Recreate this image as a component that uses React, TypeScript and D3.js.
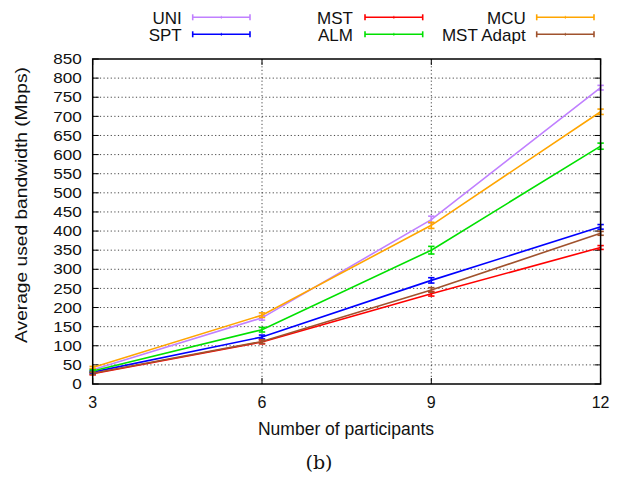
import React from "react";
import * as d3 from "d3";

// Number of participants on the x axis
const PARTICIPANTS = [3, 6, 9, 12];

// Average used bandwidth (Mbps) per scheme
const UNI = [37, 173, 430, 775];
const MST = [27, 110, 236, 357];
const MCU = [43, 180, 415, 712];
const SPT = [31, 123, 271, 411];
const ALM = [34, 142, 350, 622];
const MST_ADAPT = [28, 111, 246, 394];

// Error bar half-heights (Mbps)
const UNI_ERR = [3, 6, 9, 6];
const MST_ERR = [3, 5, 6, 5];
const MCU_ERR = [3, 6, 8, 7];
const SPT_ERR = [3, 5, 7, 6];
const ALM_ERR = [3, 6, 10, 8];
const MST_ADAPT_ERR = [3, 5, 6, 5];

const Y_TICKS = d3.range(0, 851, 50);
const X_TICKS = [3, 6, 9, 12];

type Series = { name: string; values: number[]; errs: number[]; color: string };

const SERIES: Series[] = [
  { name: "UNI", values: UNI, errs: UNI_ERR, color: "#c080ff" },
  { name: "MST", values: MST, errs: MST_ERR, color: "#ff0000" },
  { name: "MCU", values: MCU, errs: MCU_ERR, color: "#ffa500" },
  { name: "SPT", values: SPT, errs: SPT_ERR, color: "#0000ff" },
  { name: "ALM", values: ALM, errs: ALM_ERR, color: "#00e000" },
  { name: "MST Adapt", values: MST_ADAPT, errs: MST_ADAPT_ERR, color: "#a0522d" },
];

const W = 622;
const H = 479;
const LEFT = 92.7;
const RIGHT = 600.6;
const TOP = 59;
const BOTTOM = 384;

const FONT = "'Liberation Sans', Arial, Helvetica, sans-serif";

function Txt(props: {
  x: number;
  y: number;
  size: number;
  sx?: number;
  rotate?: number;
  anchor?: "start" | "middle" | "end";
  family?: string;
  children: React.ReactNode;
}) {
  const { x, y, size, sx = 1, rotate = 0, anchor = "start", family = FONT, children } = props;
  return (
    <text
      transform={`translate(${x},${y}) rotate(${rotate}) scale(${sx},1)`}
      fontSize={size}
      fontFamily={family}
      textAnchor={anchor}
      fill="#111"
    >
      {children}
    </text>
  );
}

export default function App() {
  const x = d3.scaleLinear().domain([3, 12]).range([LEFT, RIGHT]);
  const y = d3.scaleLinear().domain([0, 850]).range([BOTTOM, TOP]);

  const line = d3
    .line<number>()
    .x((_, i) => x(PARTICIPANTS[i]))
    .y((v) => y(v));

  // Legend layout: three columns, two rows
  const legendCols = [
    { textX: 181.7, x0: 192.7, x1: 250 },
    { textX: 353, x0: 365, x1: 422.7 },
    { textX: 525.7, x0: 536.7, x1: 594 },
  ];
  const legendRows = [17.3, 34.3];

  const cap = 3.2;

  return (
    <svg
      width={W}
      height={H}
      style={{ position: "absolute", left: 0, top: 0, background: "#fff" }}
    >
      <rect x={0} y={0} width={W} height={H} fill="#fff" />

      {/* grid */}
      {Y_TICKS.filter((t) => t > 0 && t < 850).map((t) => (
        <line
          key={`gy${t}`}
          x1={LEFT}
          x2={RIGHT}
          y1={y(t)}
          y2={y(t)}
          stroke="#333"
          strokeWidth={0.9}
          strokeDasharray="1.2,2.4"
        />
      ))}
      {X_TICKS.filter((t) => t > 3 && t < 12).map((t) => (
        <line
          key={`gx${t}`}
          x1={x(t)}
          x2={x(t)}
          y1={TOP}
          y2={BOTTOM}
          stroke="#333"
          strokeWidth={0.9}
          strokeDasharray="1.2,2.4"
        />
      ))}

      {/* tick marks */}
      {Y_TICKS.map((t) => (
        <g key={`ty${t}`}>
          <line x1={LEFT} x2={LEFT + 6} y1={y(t)} y2={y(t)} stroke="#000" strokeWidth={1} />
          <line x1={RIGHT - 6} x2={RIGHT} y1={y(t)} y2={y(t)} stroke="#000" strokeWidth={1} />
        </g>
      ))}
      {X_TICKS.map((t) => (
        <g key={`tx${t}`}>
          <line x1={x(t)} x2={x(t)} y1={BOTTOM} y2={BOTTOM - 6} stroke="#000" strokeWidth={1} />
          <line x1={x(t)} x2={x(t)} y1={TOP} y2={TOP + 6} stroke="#000" strokeWidth={1} />
        </g>
      ))}

      {/* series */}
      {SERIES.map((s) => (
        <g key={s.name}>
          <path d={line(s.values) || ""} fill="none" stroke={s.color} strokeWidth={1.6} />
          {s.values.map((v, i) => {
            const px = x(PARTICIPANTS[i]);
            const y0 = y(v - s.errs[i]);
            const y1 = y(v + s.errs[i]);
            return (
              <g key={i} stroke={s.color} strokeWidth={1.6}>
                <line x1={px} x2={px} y1={y0} y2={y1} />
                <line x1={px - cap} x2={px + cap} y1={y0} y2={y0} />
                <line x1={px - cap} x2={px + cap} y1={y1} y2={y1} />
              </g>
            );
          })}
        </g>
      ))}

      {/* frame */}
      <rect
        x={LEFT}
        y={TOP}
        width={RIGHT - LEFT}
        height={BOTTOM - TOP}
        fill="none"
        stroke="#000"
        strokeWidth={1.5}
      />

      {/* y tick labels */}
      {Y_TICKS.map((t) => (
        <Txt key={`ly${t}`} x={81.7} y={y(t) + 5.2} size={14.5} sx={1.18} anchor="end">
          {t}
        </Txt>
      ))}

      {/* x tick labels */}
      {X_TICKS.map((t) => (
        <Txt key={`lx${t}`} x={x(t)} y={408.3} size={16} anchor="middle">
          {t}
        </Txt>
      ))}

      {/* axis titles */}
      <Txt x={346} y={435} size={17.5} anchor="middle">
        Number of participants
      </Txt>
      <Txt x={26.5} y={205} size={16} sx={1.2} rotate={-90} anchor="middle">
        Average used bandwidth (Mbps)
      </Txt>

      {/* legend */}
      {SERIES.map((s, i) => {
        const col = legendCols[i % 3];
        const ry = legendRows[Math.floor(i / 3)];
        const mid = (col.x0 + col.x1) / 2;
        return (
          <g key={`lg${s.name}`}>
            <Txt x={col.textX} y={ry + 6.7} size={17} anchor="end">
              {s.name}
            </Txt>
            <g stroke={s.color} strokeWidth={1.6}>
              <line x1={col.x0} x2={col.x1} y1={ry} y2={ry} />
              <line x1={col.x0} x2={col.x0} y1={ry - 3} y2={ry + 3} />
              <line x1={col.x1} x2={col.x1} y1={ry - 3} y2={ry + 3} />
              <line x1={mid} x2={mid} y1={ry - 1.5} y2={ry + 1.5} strokeWidth={0.8} />
            </g>
          </g>
        );
      })}

      {/* caption */}
      <Txt x={319} y={469} size={19} anchor="middle" family="'DejaVu Serif', 'Liberation Serif', serif">
        (b)
      </Txt>
    </svg>
  );
}
